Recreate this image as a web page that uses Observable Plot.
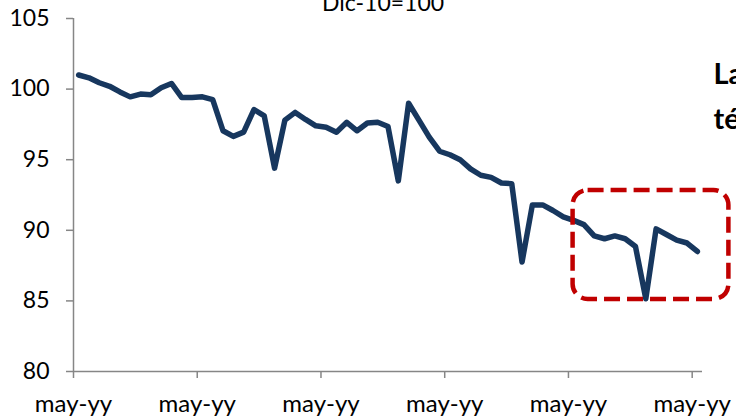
<!DOCTYPE html>
<html>
<head>
<meta charset="utf-8">
<script src="https://cdn.jsdelivr.net/npm/d3@7"></script>
<script src="https://cdn.jsdelivr.net/npm/@observablehq/plot@0.6"></script>
<style>
  html, body { margin: 0; padding: 0; background: #fff; }
  #chart { width: 736px; height: 416px; overflow: hidden; }
</style>
</head>
<body>
<div id="chart"></div>
<script>
// Index (Dic-10=100), monthly observations
const values = [101.0, 100.8, 100.45, 100.2, 99.8, 99.45, 99.65, 99.6, 100.1, 100.4,
  99.4, 99.4, 99.45, 99.25, 97.05, 96.65, 96.95, 98.55, 98.1, 94.4,
  97.8, 98.35, 97.85, 97.4, 97.3, 96.95, 97.65, 97.05, 97.6, 97.65,
  97.35, 93.5, 99.0, 97.8, 96.6, 95.6, 95.35, 95.0, 94.35, 93.9,
  93.75, 93.35, 93.3, 87.75, 91.8, 91.8, 91.4, 90.95, 90.7, 90.4,
  89.6, 89.4, 89.6, 89.4, 88.85, 85.15, 90.1, 89.7, 89.3, 89.1, 88.5];
const months = values.map((_, i) => i);
const xTickPositions = [-0.5, 11.5, 23.5, 35.5, 47.5, 59.5];
const xTickLabels = ["may-yy", "may-yy", "may-yy", "may-yy", "may-yy", "may-yy"];
const yTicks = [80, 85, 90, 95, 100, 105];
const title = "Dic-10=100";
const sideText = ["La", "té"];
// highlighted region: [x1, x2, y1, y2] in data units
const highlight = [{x1: 47.95, x2: 63.06, y1: 85.1, y2: 92.82}];

const data = months.map((m, i) => ({m, v: values[i]}));

const chart = Plot.plot({
  width: 736,
  height: 416,
  marginLeft: 73,
  marginRight: 34,
  marginTop: 18,
  marginBottom: 45,
  x: {domain: [-0.5, 60.5], axis: null},
  y: {domain: [80, 105], axis: null},
  style: {fontFamily: "Lato, 'Open Sans', sans-serif", background: "#fff", overflow: "visible", color: "#000"},
  marks: [
    Plot.ruleX([-0.5], {stroke: "#868686", strokeWidth: 1.5}),
    Plot.ruleY([80], {stroke: "#868686", strokeWidth: 1.5}),
    Plot.axisY({ticks: yTicks, tickSize: 7, tickPadding: 17, stroke: "#868686", fill: "#000",
      fontSize: 23, label: null, strokeWidth: 1.5}),
    Plot.axisX({ticks: xTickPositions, tickSize: 7, tickPadding: 16, stroke: "#868686", fill: "#000",
      fontSize: 24, label: null, strokeWidth: 1.5,
      tickFormat: (d) => xTickLabels[xTickPositions.indexOf(d)]}),
    Plot.line(data, {x: "m", y: "v", stroke: "#17375E", strokeWidth: 5.5,
      strokeLinejoin: "round", strokeLinecap: "round"}),
    Plot.rect(highlight, {x1: "x1", x2: "x2", y1: "y1", y2: "y2", fill: "none",
      stroke: "#C00000", strokeWidth: 4.5, strokeDasharray: "16,7", rx: 15}),
    Plot.text([title], {frameAnchor: "top", dx: -5, dy: -8, lineAnchor: "bottom",
      fontSize: 23, fill: "#000"}),
    Plot.text([sideText[0]], {frameAnchor: "top-right", textAnchor: "start", lineAnchor: "bottom",
      dx: 11, dy: 65, fontSize: 29, fontWeight: "bold", fill: "#000"}),
    Plot.text([sideText[1]], {frameAnchor: "top-right", textAnchor: "start", lineAnchor: "bottom",
      dx: 11, dy: 110, fontSize: 29, fontWeight: "bold", fill: "#000"})
  ]
});
document.getElementById("chart").appendChild(chart);
</script>
</body>
</html>
